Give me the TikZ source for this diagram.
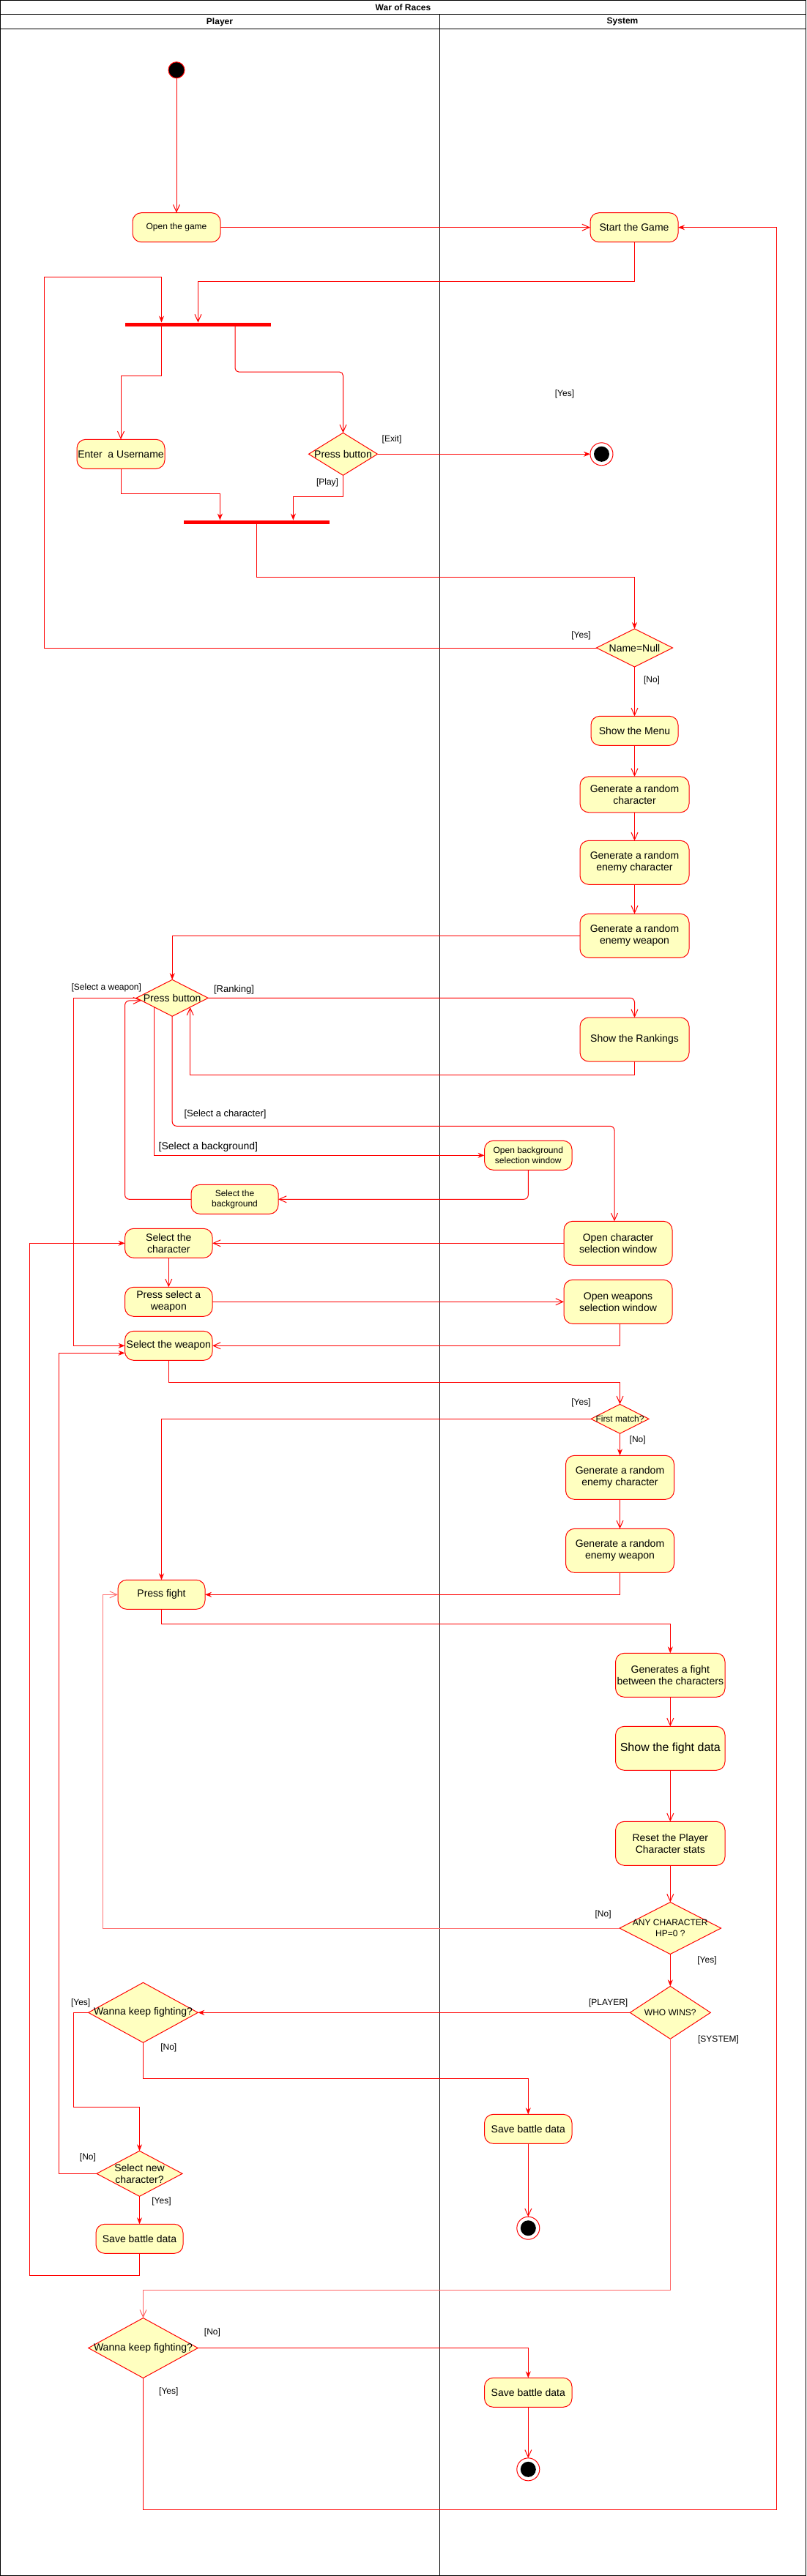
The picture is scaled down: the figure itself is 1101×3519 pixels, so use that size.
\documentclass[tikz,border=0pt]{standalone}
\usepackage{fontspec}
\setmainfont{Liberation Sans}
\usetikzlibrary{arrows.meta,shapes.geometric,calc}
\definecolor{actfill}{HTML}{FFFFC0}
\definecolor{lred}{HTML}{FF0000}
\newcommand{\fsz}[2]{\fontsize{#1pt}{#2pt}\selectfont}
\begin{document}
\begin{tikzpicture}[x=1pt,y=-1pt,
  act/.style={rectangle, rounded corners=12pt, draw=lred, fill=actfill, line width=1pt, align=center, inner sep=1pt, outer sep=0pt, font=\fsz{14}{16}},
  dec/.style={diamond, draw=lred, fill=actfill, line width=1pt, inner sep=0pt, outer sep=0pt},
  dtxt/.style={align=center, inner sep=0pt, font=\fsz{14}{16}},
  lab/.style={inner sep=0pt, font=\fsz{12}{14}},
  hdr/.style={inner sep=0pt, font=\bfseries\fsz{12}{14}},
  bar/.style={rectangle, fill=lred, draw=none, inner sep=0pt, outer sep=0pt, minimum width=199pt, minimum height=5.5pt},
  initnode/.style={circle, fill=black, draw=lred, line width=1pt, minimum size=22pt, inner sep=0pt, outer sep=0pt},
  finnode/.style={circle, fill=white, draw=lred, line width=1pt, minimum size=31pt, inner sep=0pt, outer sep=0pt, path picture={\fill[black] (path picture bounding box.center) circle[radius=10.5pt];}},
  conn/.style={draw=lred, line width=1pt},
  op/.style={conn, -{Straight Barb[length=10pt,width=9pt]}},
  fl/.style={conn, -{Stealth[length=9pt,width=7pt]}},
]
\useasboundingbox (0,0) rectangle (1101,3519);
% frame and lanes
\draw[line width=1pt] (0.5,0.5) rectangle (1100.5,3518.5);
\draw[line width=1pt] (0.5,20) -- (1100.5,20);
\draw[line width=1pt] (0.5,40) -- (1100.5,40);
\draw[line width=1pt] (600.5,20) -- (600.5,3518.5);
\node[hdr] (title) at (550.5,10) {War of Races};
\node[hdr] (lp) at (300,30) {Player};
\node[hdr] (ls) at (850,30) {System};

% nodes
\node[initnode] (init) at (241,95.7) {};
\node[act, minimum width=120pt, minimum height=40pt, font=\fsz{12}{14}] (open) at (241,310.7) {Open the game};
\node[act, minimum width=120pt, minimum height=40pt] (start) at (866,310.7) {Start the Game};
\node[bar] (bar1) at (270.5,443.3) {};
\node[act, minimum width=120pt, minimum height=40pt] (enter) at (165,620.3) {Enter\ \ a Username};
\node[dec, minimum width=94pt, minimum height=58pt] (press1) at (468.5,620.3) {};
\node[dtxt] (press1t) at (press1) {Press button};
\node[finnode] (fin1) at (821.5,620.3) {};
\node[bar] (bar2) at (350.4,713.3) {};
\node[dec, minimum width=104pt, minimum height=52pt] (null) at (866.5,885) {};
\node[dtxt] (nullt) at (null) {Name=Null};
\node[act, minimum width=119pt, minimum height=40pt] (menu) at (866.5,998.3) {Show the Menu};
\node[act, minimum width=149pt, minimum height=49pt] (gchar) at (866.5,1085.3) {Generate a random\\character};
\node[act, minimum width=149pt, minimum height=60pt] (genemy) at (866.5,1178.3) {Generate a random\\enemy character};
\node[act, minimum width=149pt, minimum height=60pt] (gweapon) at (866.5,1278.3) {Generate a random\\enemy weapon};
\node[dec, minimum width=98pt, minimum height=50pt] (press2) at (235.2,1363.3) {};
\node[dtxt] (press2t) at (press2) {Press button};
\node[act, minimum width=149pt, minimum height=60pt] (rank) at (866.5,1420) {Show the Rankings};
\node[act, minimum width=119.5pt, minimum height=40pt, font=\fsz{12}{14}] (obg) at (721.3,1578.3) {Open background\\selection window};
\node[act, minimum width=119pt, minimum height=40pt, font=\fsz{12}{14}] (selbg) at (320.5,1638.3) {Select the\\background};
\node[act, minimum width=119.5pt, minimum height=40pt] (selch) at (230.3,1698.3) {Select the\\character};
\node[act, minimum width=148pt, minimum height=60pt] (och) at (844,1698.3) {Open character\\selection window};
\node[act, minimum width=119.5pt, minimum height=40pt] (pselw) at (230.3,1778.3) {Press select a\\weapon};
\node[act, minimum width=148pt, minimum height=60pt] (owp) at (844,1778.3) {Open weapons\\selection window};
\node[act, minimum width=119.5pt, minimum height=40pt] (selw) at (230.3,1838.3) {Select the weapon};
\node[dec, minimum width=79pt, minimum height=40pt] (first) at (846.5,1938.3) {};
\node[dtxt, font=\fsz{12}{14}] (firstt) at (first) {First match?};
\node[act, minimum width=148pt, minimum height=60pt] (genemy2) at (846.5,2018.3) {Generate a random\\enemy character};
\node[act, minimum width=148pt, minimum height=60pt] (gweapon2) at (846.5,2118.3) {Generate a random\\enemy weapon};
\node[act, minimum width=119pt, minimum height=40pt] (fight) at (220.5,2178.3) {Press fight};
\node[act, minimum width=149.5pt, minimum height=60pt] (gfight) at (915.3,2288.3) {Generates a fight\\between the characters};
\node[act, minimum width=149.5pt, minimum height=60pt, font=\fsz{16}{18}] (fdata) at (915.3,2388.3) {Show the fight data};
\node[act, minimum width=149.5pt, minimum height=60pt] (reset) at (915.3,2518.3) {Reset the Player\\Character stats};
\node[dec, minimum width=138.5pt, minimum height=71pt] (any) at (915.3,2634) {};
\node[dtxt, font=\fsz{12}{15}] (anyt) at (any) {ANY CHARACTER\\HP=0 ?};
\node[dec, minimum width=110pt, minimum height=72pt] (who) at (915.3,2749.3) {};
\node[dtxt, font=\fsz{12}{14}] (whot) at (who) {WHO WINS?};
\node[dec, minimum width=149.5pt, minimum height=82pt] (wk1) at (195.5,2749.3) {};
\node[dtxt] (wk1t) at (wk1) {Wanna keep fighting?};
\node[dec, minimum width=117pt, minimum height=62pt] (selnew) at (190.5,2969.3) {};
\node[dtxt] (selnewt) at (selnew) {Select new\\character?};
\node[act, minimum width=119pt, minimum height=40pt] (save1) at (190.5,3058.3) {Save battle data};
\node[act, minimum width=119.5pt, minimum height=40pt] (save2) at (721.3,2908.3) {Save battle data};
\node[finnode] (fin2) at (721.3,3043.7) {};
\node[dec, minimum width=149.5pt, minimum height=82pt] (wk2) at (195.5,3207.5) {};
\node[dtxt] (wk2t) at (wk2) {Wanna keep fighting?};
\node[act, minimum width=119.5pt, minimum height=40pt] (save3) at (721.3,3268.3) {Save battle data};
\node[finnode] (fin3) at (721.3,3373.3) {};

% connectors
\draw[op] (init) -- (open);
\draw[op] (open) -- (start);
\draw[op] (start.south) -- ++(0,53.6) -| (bar1.north);
\draw[fl] (null.west) -| (60.4,378.3) -| ([xshift=-50pt]bar1.north);
\draw[op] ([xshift=-50pt]bar1.south) -- ++(0,67) -| (enter.north);
\draw[op, rounded corners=5pt] ([xshift=50.5pt]bar1.south) -- ++(0,62) -| (press1.north);
\draw[fl] (press1.east) -- (fin1.west);
\draw[fl] (press1.south) -- ++(0,29) -| ([xshift=50pt]bar2.north);
\draw[fl] (enter.south) -- ++(0,34) -| ([xshift=-50pt]bar2.north);
\draw[fl] (bar2.south) -- ++(0,72.3) -| (null.north);
\draw[op] (null.south) -- (menu.north);
\draw[op] (menu) -- (gchar);
\draw[op] (gchar) -- (genemy);
\draw[op] (genemy) -- (gweapon);
\draw[fl] (gweapon.west) -| (press2.north);
\draw[op, rounded corners=6pt] (press2.east) -| (rank.north);
\draw[op] (rank.south) -- ++(0,18.3) -| (press2.south east);
\draw[op, rounded corners=6pt] (selbg.west) -| (170.6,1367) -- ($(press2.west)!0.14!(press2.south)$);
\draw[fl] (press2.south west) |- (obg.west);
\draw[op, rounded corners=6pt] (press2.south) -- ++(0,150) -| ([xshift=-5pt]och.north);
\draw[op, rounded corners=6pt] (obg.south) |- (selbg.east);
\draw[fl] (press2.west) -- ++(-85.6,0) |- (selw.west);
\draw[op] (och.west) -- (selch.east);
\draw[op] (selch) -- (pselw);
\draw[op] (pselw) -- (owp);
\draw[op] ([xshift=2pt]owp.south) |- (selw.east);
\draw[op] (selw.south) -- ++(0,30) -| (first.north);
\draw[fl] (first.west) -| (fight.north);
\draw[fl] (first.south) -- (genemy2.north);
\draw[op] (genemy2) -- (gweapon2);
\draw[fl] (gweapon2.south) |- (fight.east);
\draw[fl] (fight.south) -- ++(0,20) -| (gfight.north);
\draw[op] (gfight) -- (fdata);
\draw[op] (fdata) -- (reset);
\draw[op] (reset) -- (any);
\draw[fl] (any) -- (who);
\draw[op, draw=red!55] (any.west) -- ++(-705.6,0) |- (fight.west);
\draw[fl] (who.west) -- (wk1.east);
\draw[fl] (wk1.west) -| (100.4,2878.3) -| (selnew.north);
\draw[fl] (wk1.south) -- ++(0,49.3) -| (save2.north);
\draw[op] (save2) -- (fin2);
\draw[fl] (selnew.west) -- ++(-51.5,0) |- ([yshift=-10pt]selw.west);
\draw[fl] (selnew) -- (save1);
\draw[fl] (save1.south) -- ++(0,30) -- ++(-150.5,0) |- (selch.west);
\draw[op, draw=red!60] (who.south) -- ++(0,343) -| (wk2.north);
\draw[fl] (wk2.east) -| (save3.north);
\draw[op] (save3) -- (fin3);
\draw[fl] (wk2.south) -- ++(0,180) -- ++(864.5,0) |- (start.east);

% labels
\node[lab] (l1) at (771,538.3) {[Yes]};
\node[lab] (l2) at (535,600) {[Exit]};
\node[lab] (l3) at (447,659.3) {[Play]};
\node[lab] (l4) at (793.5,868.7) {[Yes]};
\node[lab] (l5) at (890,929.3) {[No]};
\node[lab] (l6) at (145.3,1349) {[Select a weapon]};
\node[lab, font=\fsz{13}{15}] (l7) at (319.5,1352.3) {[Ranking]};
\node[lab, font=\fsz{13}{15}] (l8) at (307.5,1521.7) {[Select a character]};
\node[lab, font=\fsz{14}{16}] (l9) at (284.4,1567.3) {[Select a background]};
\node[lab] (l10) at (793.5,1916.7) {[Yes]};
\node[lab] (l11) at (870.7,1967.3) {[No]};
\node[lab] (l12) at (823.6,2615.3) {[No]};
\node[lab] (l13) at (965.5,2678.3) {[Yes]};
\node[lab] (l14) at (830.7,2736.7) {[PLAYER]};
\node[lab] (l15) at (981,2786.7) {[SYSTEM]};
\node[lab] (l16) at (110.2,2736.7) {[Yes]};
\node[lab] (l17) at (230.3,2797.3) {[No]};
\node[lab] (l18) at (120,2947.3) {[No]};
\node[lab] (l19) at (220.5,3007.3) {[Yes]};
\node[lab] (l20) at (290,3186.7) {[No]};
\node[lab] (l21) at (230.3,3267.3) {[Yes]};
\end{tikzpicture}
\end{document}
